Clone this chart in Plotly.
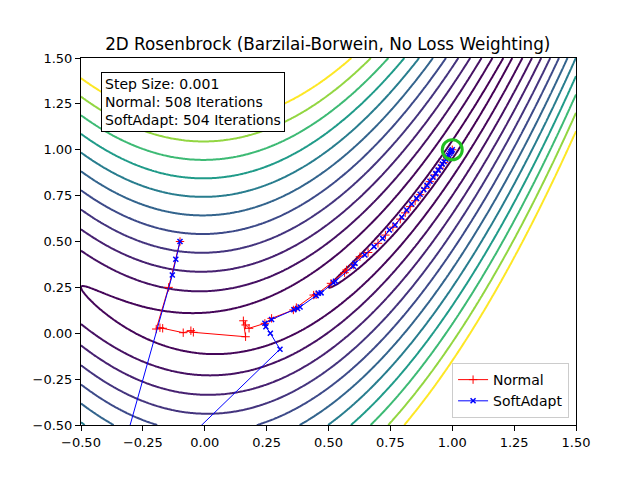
import numpy as np
import plotly.graph_objects as go
from plotly.colors import sample_colorscale

# contour levels of the Rosenbrock surface (0.5^2, 1.5^2, ... 11.5^2)
levels = [0.25, 2.25, 6.25, 12.25, 20.25, 30.25, 42.25, 56.25, 72.25, 90.25, 110.25, 132.25]

# Normal path (red, '+')
normal_x = [-0.10, -0.146, -0.196, -0.181, -0.170, -0.087, -0.056, -0.046, 0.165, 0.156,
            0.165, 0.179, 0.243, 0.270, 0.358, 0.370, 0.440, 0.450, 0.510, 0.573,
            0.565, 0.600, 0.627, 0.660, 0.700, 0.730, 0.760, 0.790, 0.810, 0.830,
            0.850, 0.870, 0.890, 0.910, 0.930, 0.950, 0.965, 0.980, 0.990, 1.000]
normal_y = [0.50, 0.250, 0.023, 0.030, 0.027, 0.003, 0.014, 0.005, -0.019, 0.068,
            0.045, 0.027, 0.054, 0.081, 0.127, 0.140, 0.208, 0.210, 0.272, 0.345,
            0.330, 0.372, 0.417, 0.440, 0.490, 0.535, 0.578, 0.622, 0.656, 0.690,
            0.722, 0.755, 0.790, 0.826, 0.863, 0.900, 0.930, 0.960, 0.980, 1.000]

# SoftAdapt path (blue, 'x')
soft_x = [-0.10, -0.117, -0.131, -0.410, 0.304, 0.265, 0.247, 0.243, 0.270, 0.360,
          0.375, 0.385, 0.450, 0.459, 0.470, 0.520, 0.528, 0.600, 0.607, 0.647,
          0.684, 0.719, 0.746, 0.769, 0.796, 0.816, 0.836, 0.856, 0.870, 0.885,
          0.898, 0.910, 0.922, 0.933, 0.943, 0.952, 0.960, 0.967, 0.974, 0.980,
          0.985, 0.990, 0.994, 0.997, 1.000]
soft_y = [0.50, 0.403, 0.317, -1.020, -0.087, 0.000, 0.035, 0.054, 0.075, 0.128,
          0.135, 0.143, 0.205, 0.218, 0.220, 0.275, 0.283, 0.365, 0.381, 0.426,
          0.472, 0.517, 0.563, 0.590, 0.632, 0.672, 0.704, 0.735, 0.757, 0.783,
          0.806, 0.828, 0.850, 0.870, 0.889, 0.906, 0.922, 0.935, 0.948, 0.960,
          0.970, 0.980, 0.988, 0.994, 1.000]

ticks = [-0.5, -0.25, 0.0, 0.25, 0.5, 0.75, 1.0, 1.25, 1.5]

# surface of the function named in the title
gx = np.linspace(-0.5, 1.5, 300)
gy = np.linspace(-0.5, 1.5, 300)
X, Y = np.meshgrid(gx, gy)
Z = (1 - X) ** 2 + 100 * (Y - X ** 2) ** 2

# colour by level value, like matplotlib does
lo, hi = levels[0], levels[-1]
cols = sample_colorscale('Viridis', [(lv - lo) / (hi - lo) for lv in levels])

fig = go.Figure()
for lv, col in zip(levels, cols):
    fig.add_trace(go.Contour(x=gx, y=gy, z=Z, showscale=False, showlegend=False,
                             contours=dict(start=lv, end=lv + 1e-6, size=1, coloring='none'),
                             line=dict(color=col, width=2), hoverinfo='skip'))

fig.add_trace(go.Scatter(x=normal_x, y=normal_y, mode='lines+markers', name='Normal',
                         line=dict(color='red', width=1),
                         marker=dict(symbol='cross-thin', size=6, color='red',
                                     line=dict(color='red', width=1))))
fig.add_trace(go.Scatter(x=soft_x, y=soft_y, mode='lines+markers', name='SoftAdapt',
                         line=dict(color='blue', width=1),
                         marker=dict(symbol='x-thin', size=5, color='blue',
                                     line=dict(color='blue', width=1.5))))
fig.add_trace(go.Scatter(x=[1.0], y=[1.0], mode='markers', showlegend=False,
                         marker=dict(symbol='circle-open', size=20, color='#20c020',
                                     line=dict(color='#20c020', width=3))))

axis = dict(range=[-0.5, 1.5], tickvals=ticks, tickformat='.2f', showgrid=False,
            zeroline=False, showline=True, linecolor='black', linewidth=1, mirror=True,
            ticks='outside', ticklen=5, tickcolor='black', tickfont=dict(size=13))

# page body has an 8px margin, so the figure is 8px smaller and shifted
fig.update_layout(
    width=632, height=470,
    margin=dict(l=73, r=64, t=50, b=53),
    paper_bgcolor='white', plot_bgcolor='white',
    font=dict(family='DejaVu Sans', color='black', size=13),
    title=dict(text='2D Rosenbrock (Barzilai-Borwein, No Loss Weighting)', x=0.506,
               xanchor='center', y=0.923, yanchor='middle', font=dict(size=16.8)),
    xaxis=axis, yaxis=axis,
    legend=dict(x=0.986, y=0.019, xanchor='right', yanchor='bottom', bgcolor='white',
                bordercolor='#cccccc', borderwidth=1, font=dict(size=14)),
    annotations=[dict(text='Step Size: 0.001<br>Normal: 508 Iterations<br>SoftAdapt: 504 Iterations',
                      xref='paper', yref='paper', x=0.04, y=0.962, xanchor='left', yanchor='top',
                      align='left', showarrow=False, bgcolor='white', bordercolor='black',
                      borderwidth=1, borderpad=3, font=dict(size=14))],
)

fig.write_html("out.html")
